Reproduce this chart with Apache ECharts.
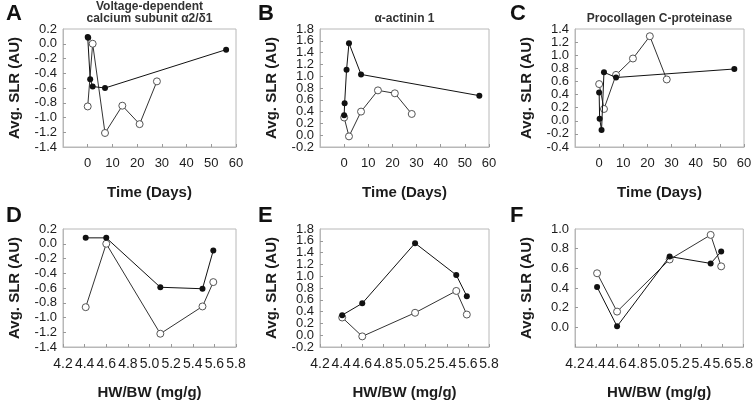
<!DOCTYPE html>
<html>
<head>
<meta charset="utf-8">
<script src="https://cdn.jsdelivr.net/npm/echarts@6/dist/echarts.min.js"></script>
<style>
html,body{margin:0;padding:0;background:#fff;}
#chart{width:756px;height:404px;}
</style>
</head>
<body>
<div id="chart"></div>
<script>
// ---- Data ----
var panelLetters = ['A', 'B', 'C', 'D', 'E', 'F'];
var panelTitles = ['Voltage-dependent\ncalcium subunit \u03b12/\u03b41', '\u03b1-actinin 1', 'Procollagen C-proteinase'];

// Time-course panels (top row)
var filledDays = [0, 0.2, 1, 2, 7, 56];
var openDays = [0, 2, 7, 14, 21, 28];
var aFilled = [0.09, 0.08, -0.48, -0.58, -0.60, -0.08];
var aOpen = [-0.85, 0.00, -1.21, -0.84, -1.09, -0.51];
var bFilled = [0.34, 0.54, 1.11, 1.56, 1.03, 0.67];
var bOpen = [0.30, -0.02, 0.40, 0.76, 0.71, 0.36];
var cFilled = [0.43, 0.03, -0.14, 0.74, 0.66, 0.79];
var cOpen = [0.56, 0.18, 0.70, 0.95, 1.29, 0.63];

// HW/BW panels (bottom row)
var hwbw = [4.41, 4.60, 5.10, 5.49, 5.59];
var dFilled = [0.08, 0.08, -0.59, -0.61, -0.09];
var dOpen = [-0.86, 0.00, -1.22, -0.85, -0.52];
var eFilled = [0.34, 0.54, 1.56, 1.02, 0.66];
var eOpen = [0.30, -0.02, 0.38, 0.75, 0.35];
var fFilled = [0.41, 0.01, 0.72, 0.65, 0.77];
var fOpen = [0.55, 0.16, 0.69, 0.94, 0.62];

// Axis ranges
var timeAxis = {min: -10, max: 60, interval: 10};
var hwAxis = {min: 4.2, max: 5.8, interval: 0.2};
var yRanges = [
  {min: -1.4, max: 0.2, interval: 0.2},
  {min: -0.2, max: 1.8, interval: 0.2},
  {min: -0.4, max: 1.4, interval: 0.2},
  {min: -1.4, max: 0.2, interval: 0.2},
  {min: -0.2, max: 1.8, interval: 0.2},
  {min: -0.2, max: 1.0, interval: 0.2}
];
var showYMinLabel = [true, true, true, true, true, false];
var xTitles = ['Time (Days)', 'HW/BW (mg/g)'];
var yTitle = 'Avg. SLR (AU)';

// ---- Layout ----
var grids = [
  {left: 63, top: 29, width: 173, height: 118},
  {left: 320, top: 29, width: 169, height: 118},
  {left: 575, top: 29, width: 169, height: 118},
  {left: 63, top: 229, width: 173, height: 118},
  {left: 320, top: 229, width: 169, height: 118},
  {left: 575, top: 229, width: 169, height: 118}
];

function pairs(xs, ys) {
  return ys.map(function (v, i) { return [xs[i], v]; });
}
var seriesData = [
  [pairs(filledDays, aFilled), pairs(openDays, aOpen)],
  [pairs(filledDays, bFilled), pairs(openDays, bOpen)],
  [pairs(filledDays, cFilled), pairs(openDays, cOpen)],
  [pairs(hwbw, dFilled), pairs(hwbw, dOpen)],
  [pairs(hwbw, eFilled), pairs(hwbw, eOpen)],
  [pairs(hwbw, fFilled), pairs(hwbw, fOpen)]
];

var FONT = '"Liberation Sans", Arial, sans-serif';
var TXT = '#1c1c1c';
var BOX = '#b8b8b8';
function fmt1(v) { return (Math.round(v * 10) / 10).toFixed(1); }

var option = {
  animation: false,
  backgroundColor: '#fff',
  textStyle: {fontFamily: FONT},
  title: [],
  grid: [],
  xAxis: [],
  yAxis: [],
  series: []
};

grids.forEach(function (g, i) {
  option.grid.push({left: g.left, top: g.top, width: g.width, height: g.height,
    show: true, borderColor: BOX, borderWidth: 1, backgroundColor: 'transparent'});
  var isTop = i < 3;
  var xr = isTop ? timeAxis : hwAxis;
  option.xAxis.push({
    type: 'value', gridIndex: i, min: xr.min, max: xr.max, interval: xr.interval,
    name: xTitles[isTop ? 0 : 1], nameLocation: 'middle', nameGap: 38,
    nameTextStyle: {fontFamily: FONT, fontSize: 15, fontWeight: 'bold', color: TXT},
    splitLine: {show: false},
    axisLine: {show: true, onZero: false, lineStyle: {color: BOX, width: 1}},
    axisTick: {show: true, inside: true, length: 3, lineStyle: {color: '#999'}},
    axisLabel: {
      fontFamily: FONT, fontSize: isTop ? 13 : 14, color: TXT, margin: 10,
      hideOverlap: false,
      showMinLabel: isTop ? false : true,
      formatter: function (v) { return isTop ? String(Math.round(v)) : fmt1(v); }
    }
  });
  var yr = yRanges[i];
  // primary y axis: line, ticks, interior labels
  option.yAxis.push({
    type: 'value', gridIndex: i, min: yr.min, max: yr.max, interval: yr.interval,
    name: yTitle, nameLocation: 'middle', nameGap: 41, nameRotate: 90,
    nameTextStyle: {fontFamily: FONT, fontSize: 15, fontWeight: 'bold', color: TXT},
    splitLine: {show: false},
    axisLine: {show: true, onZero: false, lineStyle: {color: BOX, width: 1}},
    axisTick: {show: true, inside: true, length: 3, lineStyle: {color: '#999'}},
    axisLabel: {
      fontFamily: FONT, fontSize: 13, color: TXT, margin: 6,
      hideOverlap: false, showMinLabel: false, showMaxLabel: false,
      formatter: fmt1
    }
  });
});

// secondary y axes: only the end labels (min / max)
grids.forEach(function (g, i) {
  var yr = yRanges[i];
  option.yAxis.push({
    type: 'value', gridIndex: i, min: yr.min, max: yr.max, interval: yr.interval,
    position: 'left',
    splitLine: {show: false}, axisLine: {show: false}, axisTick: {show: false},
    axisLabel: {
      fontFamily: FONT, fontSize: 13, color: TXT, margin: 6,
      hideOverlap: false, showMinLabel: showYMinLabel[i], showMaxLabel: true,
      formatter: function (v) {
        var isMin = Math.abs(v - yr.min) < 1e-6, isMax = Math.abs(v - yr.max) < 1e-6;
        if (isMax || (isMin && showYMinLabel[i])) return fmt1(v);
        return '';
      }
    }
  });
});

grids.forEach(function (g, i) {
  var isTop = i < 3;
  option.series.push({
    type: 'line', xAxisIndex: i, yAxisIndex: i, data: seriesData[i][1],
    symbol: 'circle', symbolSize: 7, z: 2,
    lineStyle: {color: '#333', width: 1},
    itemStyle: {color: '#fff', borderColor: '#555', borderWidth: 1}
  });
  option.series.push({
    type: 'line', xAxisIndex: i, yAxisIndex: i, data: seriesData[i][0],
    symbol: 'circle', symbolSize: 6, z: 3,
    lineStyle: {color: '#111', width: 1},
    itemStyle: {color: '#111', borderColor: '#111', borderWidth: 0}
  });
  // panel letter
  option.title.push({
    text: panelLetters[i], left: (i % 3 === 0 ? 6 : (i % 3 === 1 ? 258 : 510)), top: isTop ? 3 : 205,
    padding: 0,
    textStyle: {fontFamily: FONT, fontSize: 22, fontWeight: 'bold', color: '#111'}
  });
});

// panel titles (top row)
[0, 1, 2].forEach(function (i) {
  var g = grids[i];
  option.title.push({
    text: panelTitles[i], left: g.left + g.width / 2, top: i === 0 ? 0 : 12, textAlign: 'center',
    padding: 0,
    textStyle: {fontFamily: FONT, fontSize: 12, fontWeight: 'bold', color: '#333', lineHeight: 12.5}
  });
});

var chart = echarts.init(document.getElementById('chart'), null, {renderer: 'canvas'});
chart.setOption(option);
</script>
</body>
</html>
